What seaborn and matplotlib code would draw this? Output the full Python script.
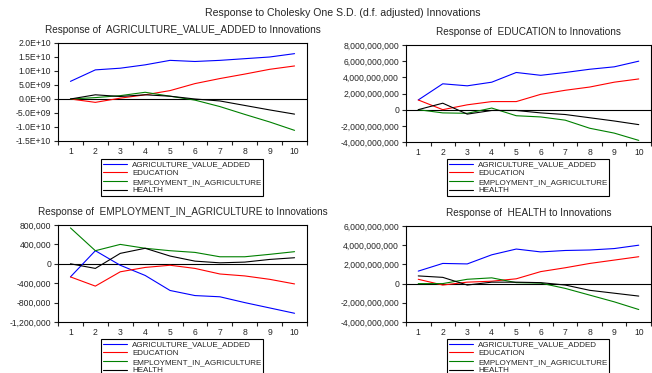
#!/usr/bin/env python3
"""
Impulse responses (Cholesky one S.D.) - EViews style 2x2 panel
"""

import numpy as np
import pandas as pd
import matplotlib
matplotlib.use('Agg')
import matplotlib.pyplot as plt
from matplotlib.lines import Line2D
from matplotlib.ticker import FuncFormatter, MultipleLocator
import seaborn as sns

# Dados
periods = list(range(1, 11))
shocks = ['AGRICULTURE_VALUE_ADDED', 'EDUCATION', 'EMPLOYMENT_IN_AGRICULTURE', 'HEALTH']

# Response of AGRICULTURE_VALUE_ADDED
agri_to_agri = [6.3e9, 10.4e9, 11.0e9, 12.2e9, 13.8e9, 13.4e9, 13.8e9, 14.4e9, 15.0e9, 16.2e9]
agri_to_edu = [0.0, -1.2e9, 0.3e9, 1.5e9, 3.0e9, 5.5e9, 7.3e9, 8.9e9, 10.6e9, 11.8e9]
agri_to_emp = [0.0, 0.5e9, 1.2e9, 2.4e9, 1.0e9, -0.4e9, -2.7e9, -5.5e9, -8.2e9, -11.2e9]
agri_to_health = [0.0, 1.5e9, 0.9e9, 1.5e9, 1.0e9, 0.0, -0.7e9, -2.3e9, -3.9e9, -5.4e9]

# Response of EDUCATION
edu_to_agri = [1.2e9, 3.2e9, 2.95e9, 3.4e9, 4.6e9, 4.25e9, 4.6e9, 5.0e9, 5.3e9, 6.0e9]
edu_to_edu = [1.2e9, 0.0, 0.6e9, 1.0e9, 1.0e9, 1.9e9, 2.4e9, 2.8e9, 3.4e9, 3.8e9]
edu_to_emp = [0.0, -0.4e9, -0.45e9, 0.2e9, -0.75e9, -0.9e9, -1.3e9, -2.3e9, -2.9e9, -3.8e9]
edu_to_health = [0.0, 0.8e9, -0.55e9, -0.1e9, -0.1e9, -0.4e9, -0.6e9, -1.0e9, -1.4e9, -1.85e9]

# Response of EMPLOYMENT_IN_AGRICULTURE
emp_to_agri = [-270e3, 270e3, -30e3, -240e3, -550e3, -655e3, -680e3, -800e3, -910e3, -1020e3]
emp_to_edu = [-270e3, -460e3, -165e3, -75e3, -30e3, -95e3, -210e3, -250e3, -320e3, -415e3]
emp_to_emp = [740e3, 270e3, 400e3, 320e3, 270e3, 235e3, 145e3, 145e3, 195e3, 250e3]
emp_to_health = [0.0, -95e3, 215e3, 320e3, 160e3, 55e3, 20e3, 35e3, 90e3, 125e3]

# Response of HEALTH
health_to_agri = [1.3e9, 2.1e9, 2.05e9, 3.0e9, 3.6e9, 3.3e9, 3.45e9, 3.5e9, 3.65e9, 4.0e9]
health_to_edu = [0.45e9, -0.15e9, 0.15e9, 0.25e9, 0.5e9, 1.25e9, 1.65e9, 2.1e9, 2.45e9, 2.8e9]
health_to_emp = [0.0, 0.0, 0.45e9, 0.6e9, 0.1e9, 0.05e9, -0.5e9, -1.2e9, -1.9e9, -2.7e9]
health_to_health = [0.8e9, 0.65e9, -0.15e9, 0.15e9, 0.15e9, 0.1e9, -0.15e9, -0.7e9, -1.0e9, -1.3e9]

panels = [
    ('AGRICULTURE_VALUE_ADDED', [agri_to_agri, agri_to_edu, agri_to_emp, agri_to_health],
     (-1.5e10, 2.0e10), 5e9, 'sci'),
    ('EDUCATION', [edu_to_agri, edu_to_edu, edu_to_emp, edu_to_health],
     (-4e9, 8e9), 2e9, 'comma'),
    ('EMPLOYMENT_IN_AGRICULTURE', [emp_to_agri, emp_to_edu, emp_to_emp, emp_to_health],
     (-1.2e6, 0.8e6), 4e5, 'comma'),
    ('HEALTH', [health_to_agri, health_to_edu, health_to_emp, health_to_health],
     (-4e9, 6e9), 2e9, 'comma'),
]

palette = {
    'AGRICULTURE_VALUE_ADDED': '#0000ff',
    'EDUCATION': '#ff0000',
    'EMPLOYMENT_IN_AGRICULTURE': '#008000',
    'HEALTH': '#000000',
}

# posicoes em pixels: (esquerda, topo, direita, baixo) e canto da legenda
W, H = 652, 373
axes_px = [(58, 43, 307, 141), (406, 45, 651, 142), (58, 225, 307, 322), (406, 226, 651, 322)]
legend_px = [(101, 159), (447, 159), (101, 339), (447, 339)]

sns.set_style('ticks')
plt.rcParams['font.family'] = ['Liberation Sans', 'DejaVu Sans']
plt.rcParams['axes.linewidth'] = 0.8

fig = plt.figure(figsize=(W / 100, H / 100), dpi=100)
fig.patch.set_facecolor('white')
fig.text(343 / W, 1 - 13 / H, 'Response to Cholesky One S.D. (d.f. adjusted) Innovations',
         ha='center', va='center', fontsize=7.6)

for (name, series, ylim, step, fmt), (l, t, r, b), (lx, ly) in zip(panels, axes_px, legend_px):
    ax = fig.add_axes([l / W, 1 - b / H, (r - l) / W, (b - t) / H])
    df = pd.DataFrame({
        'period': np.tile(periods, len(shocks)),
        'shock': np.repeat(shocks, len(periods)),
        'value': np.concatenate(series),
    })
    ax.axhline(0, color='black', lw=0.8, zorder=1)
    sns.lineplot(data=df, x='period', y='value', hue='shock', hue_order=shocks,
                 palette=palette, lw=0.8, ax=ax, legend=False)

    ax.set_xlim(0.5, 10.5)
    ax.set_ylim(*ylim)
    ax.set_xticks(periods)
    ax.xaxis.set_minor_locator(MultipleLocator(1, offset=0.5))
    ax.tick_params(axis='x', which='major', length=0, labelsize=6.2, pad=4)
    ax.tick_params(axis='x', which='minor', length=3, width=0.8, direction='out')
    ax.yaxis.set_major_locator(MultipleLocator(step))
    ax.tick_params(axis='y', length=3, width=0.8, labelsize=6.2, pad=2)
    if fmt == 'sci':
        ax.yaxis.set_major_formatter(FuncFormatter(lambda v, p: f'{v:.1E}'))
    else:
        ax.yaxis.set_major_formatter(FuncFormatter(lambda v, p: f'{int(round(v)):,}'))
    for s in ax.spines.values():
        s.set_visible(True)
        s.set_color('black')
    ax.set_xlabel('')
    ax.set_ylabel('')
    ax.set_title(f'Response of  {name} to Innovations', fontsize=7.2, pad=7)

    handles = [Line2D([], [], color=palette[s], lw=0.8) for s in shocks]
    leg = ax.legend(handles, shocks, loc='upper left',
                    bbox_to_anchor=(lx / W, 1 - ly / H), bbox_transform=fig.transFigure,
                    fontsize=5.8, frameon=True, fancybox=False, edgecolor='black',
                    framealpha=1, handlelength=3.0, handletextpad=0.6,
                    labelspacing=0.12, borderpad=0.25, borderaxespad=0)
    leg.get_frame().set_linewidth(0.8)

fig.savefig('out.png', dpi=100)
